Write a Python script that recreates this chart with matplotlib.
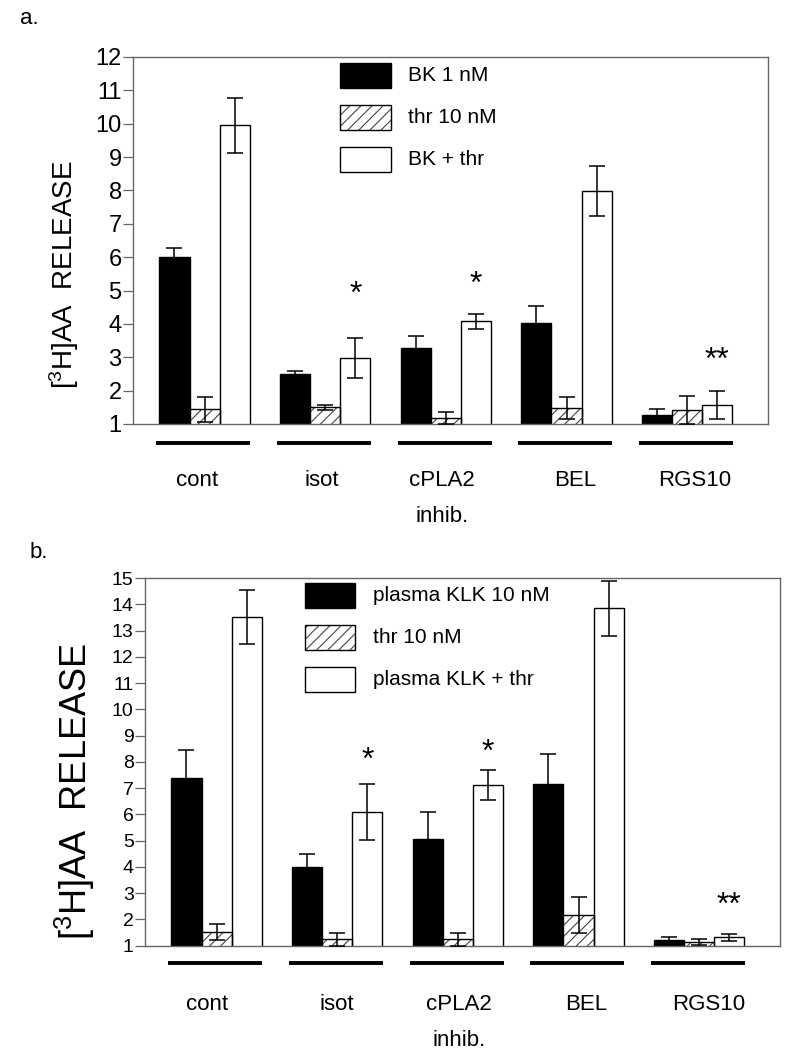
import matplotlib
matplotlib.use("Agg")
import matplotlib.pyplot as plt
from matplotlib.patches import Rectangle
import numpy as np

plt.rcParams['font.family'] = ['Liberation Sans', 'DejaVu Sans']
plt.rcParams['mathtext.fontset'] = 'custom'
plt.rcParams['mathtext.rm'] = 'Liberation Sans'
plt.rcParams['mathtext.it'] = 'Liberation Sans'
plt.rcParams['hatch.linewidth'] = 0.8

# ---------------- data ----------------
categories = ["cont", "isot", "cPLA2", "BEL", "RGS10"]

# panel a
a_legend = ["BK 1 nM", "thr 10 nM", "BK + thr"]
a_bk = [6.00, 2.49, 3.29, 4.03, 1.26]
a_bk_err = [0.27, 0.10, 0.34, 0.50, 0.18]
a_thr = [1.44, 1.50, 1.19, 1.47, 1.42]
a_thr_err = [0.38, 0.07, 0.18, 0.33, 0.43]
a_both = [9.95, 2.99, 4.08, 7.98, 1.56]
a_both_err = [0.83, 0.60, 0.23, 0.75, 0.42]
a_star_cats = ["isot", "cPLA2", "RGS10"]
a_star_text = ["*", "*", "**"]
a_star_y = [5.07, 5.37, 3.07]
a_yticks = [1, 2, 3, 4, 5, 6, 7, 8, 9, 10, 11, 12]

# panel b
b_legend = ["plasma KLK 10 nM", "thr 10 nM", "plasma KLK + thr"]
b_klk = [7.39, 3.99, 5.06, 7.17, 1.22]
b_klk_err = [1.08, 0.51, 1.03, 1.11, 0.12]
b_thr = [1.51, 1.24, 1.24, 2.17, 1.15]
b_thr_err = [0.31, 0.26, 0.26, 0.68, 0.12]
b_both = [13.52, 6.09, 7.11, 13.84, 1.32]
b_both_err = [1.03, 1.07, 0.57, 1.03, 0.13]
b_star_cats = ["isot", "cPLA2", "RGS10"]
b_star_text = ["*", "*", "**"]
b_star_y = [8.28, 8.58, 2.75]
b_yticks = list(range(1, 16))

# ---------------- figure ----------------
fig = plt.figure(figsize=(8, 10.61), dpi=100)

W = 0.25
HATCH = '///'
HATCH_COLOR = '#444444'
SPINE_COLOR = '#666666'


def draw_panel(ax, s1, e1, s2, e2, s3, e3, ymax, yticks, legend_labels,
               star_cats, star_text, star_y, tick_fs, leg_pos, text_x,
               underline_y, label_y, inhib_y, label_dx):
    x = np.arange(len(categories))
    ax.bar(x - W, s1, W, color='black', edgecolor='black', linewidth=1.0, zorder=2)
    ax.bar(x, s2, W, color='white', edgecolor=HATCH_COLOR, hatch=HATCH, linewidth=0, zorder=2)
    ax.bar(x, s2, W, fill=False, edgecolor='black', linewidth=1.0, zorder=2.1)
    ax.bar(x + W, s3, W, color='white', edgecolor='black', linewidth=1.0, zorder=2)
    ekw = dict(fmt='none', ecolor='black', elinewidth=1.1, capsize=5.5, capthick=1.1, zorder=3)
    ax.errorbar(x - W, s1, yerr=e1, **ekw)
    ax.errorbar(x, s2, yerr=e2, **ekw)
    ax.errorbar(x + W, s3, yerr=e3, **ekw)

    ax.set_xlim(-0.595, 4.67)
    ax.set_ylim(1, ymax)
    ax.set_yticks(yticks)
    ax.set_xticks([])
    ax.tick_params(axis='y', direction='out', length=7, width=0.9, color=SPINE_COLOR,
                   pad=1, labelsize=tick_fs)
    for sp in ax.spines.values():
        sp.set_color(SPINE_COLOR)
        sp.set_linewidth(1.0)

    for c, t, yv in zip(star_cats, star_text, star_y):
        i = categories.index(c)
        ax.annotate(t, (i + W, yv), xytext=(0, -4.5), textcoords='offset points',
                    ha='center', va='center', fontsize=23)

    x0, x1 = leg_pos[0], leg_pos[1]
    kinds = ['black', 'hatch', 'white']
    for (yb, yt), kind, lab in zip(leg_pos[2], kinds, legend_labels):
        if kind == 'hatch':
            ax.add_patch(Rectangle((x0, yb), x1 - x0, yt - yb, transform=ax.transAxes,
                                   facecolor='white', edgecolor=HATCH_COLOR, hatch=HATCH,
                                   linewidth=0, zorder=4))
            ax.add_patch(Rectangle((x0, yb), x1 - x0, yt - yb, transform=ax.transAxes,
                                   fill=False, edgecolor='black', linewidth=1.0, zorder=4.1))
        else:
            ax.add_patch(Rectangle((x0, yb), x1 - x0, yt - yb, transform=ax.transAxes,
                                   facecolor=kind, edgecolor='black', linewidth=1.0, zorder=4))
        ax.text(text_x, (yb + yt) / 2, lab, transform=ax.transAxes, ha='left', va='center',
                fontsize=15)

    tr = ax.get_xaxis_transform()
    for i, c in enumerate(categories):
        ax.plot([i - 0.40, i + 0.38], [underline_y, underline_y], transform=tr, color='black',
                linewidth=2.8, clip_on=False, solid_capstyle='butt')
        ax.text(i + label_dx[i], label_y, c, transform=tr, ha='center', va='center',
                fontsize=16)
    j = categories.index("cPLA2")
    ax.text(j + label_dx[j], inhib_y, "inhib.", transform=tr,
            ha='center', va='center', fontsize=16)


# panel a
axa = fig.add_axes([0.166, 0.6004, 0.794, 0.3459])
draw_panel(axa, a_bk, a_bk_err, a_thr, a_thr_err, a_both, a_both_err, 12, a_yticks,
           a_legend, a_star_cats, a_star_text, a_star_y, tick_fs=17,
           leg_pos=(0.326, 0.406, [(0.9155, 0.9837), (0.801, 0.869), (0.687, 0.755)]),
           text_x=0.433, underline_y=-0.052, label_y=-0.153, inhib_y=-0.253,
           label_dx=[-0.06, -0.03, -0.03, 0.07, 0.06])
fig.text(0.080, 1 - 275 / 1061, r"[$^{3}$H]AA  RELEASE", rotation=90, ha='center',
         va='center', fontsize=20)
fig.text(0.025, 1 - 18 / 1061, "a.", ha='left', va='center', fontsize=16)

# panel b
axb = fig.add_axes([0.181, 0.1087, 0.794, 0.3465])
draw_panel(axb, b_klk, b_klk_err, b_thr, b_thr_err, b_both, b_both_err, 15, b_yticks,
           b_legend, b_star_cats, b_star_text, b_star_y, tick_fs=14,
           leg_pos=(0.252, 0.331, [(0.918, 0.986), (0.804, 0.872), (0.690, 0.758)]),
           text_x=0.359, underline_y=-0.047, label_y=-0.161, inhib_y=-0.257,
           label_dx=[-0.08, 0.0, 0.01, 0.06, 0.075])
fig.text(0.094, 1 - 792 / 1061, r"[$^{3}$H]AA  RELEASE", rotation=90, ha='center',
         va='center', fontsize=26)
fig.text(0.037, 1 - 552 / 1061, "b.", ha='left', va='center', fontsize=16)

fig.savefig("out.png", dpi=100)
